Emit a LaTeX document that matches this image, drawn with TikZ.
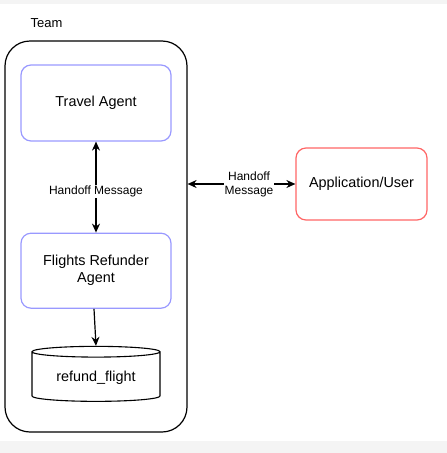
\documentclass[tikz,border=0pt]{standalone}
\usepackage{fontspec}
\setmainfont{Liberation Sans}
\usepackage{xcolor}
\usetikzlibrary{arrows.meta,shapes.geometric,positioning}

\definecolor{agentline}{RGB}{153,153,255}
\definecolor{userline}{RGB}{255,102,102}
\definecolor{stripgray}{RGB}{244,244,244}

\begin{document}
\begin{tikzpicture}[x=1pt,y=1pt,>={Stealth[length=9pt,width=8pt]},node distance=3cm,
            agent node/.style={draw=agentline,line width=1.2pt,rounded corners=10pt,
                minimum width=150pt,align=center,font=\fontsize{14.4}{17}\selectfont},
            user node/.style={draw=userline,line width=1.2pt,rounded corners=10pt,
                minimum width=131pt,minimum height=72pt,font=\fontsize{14.4}{17}\selectfont},
            team box/.style={draw,line width=1.2pt,rounded corners=25pt,
                minimum width=182pt,minimum height=391pt},
            store node/.style={draw,line width=1.1pt,cylinder,shape border rotate=90,aspect=0.125,
                minimum width=128pt,minimum height=55pt,font=\fontsize{14.4}{17}\selectfont},
            link/.style={line width=1.2pt},
            msg/.style={fill=white,inner sep=1pt,align=center,font=\fontsize{12}{14}\selectfont}]

        \useasboundingbox (0,0) rectangle (447,-453);
        \fill[stripgray] (0,0) rectangle (447,-4);
        \fill[stripgray] (0,-441) rectangle (447,-453);

        \node[team box] (team) at (96,-236.5) {};
        \node[anchor=west,font=\fontsize{13}{15}\selectfont] (teamlabel) at (27,-23) {Team};

        \node[agent node,minimum height=76pt] (travel) at (96,-103) {Travel Agent};
        \node[agent node,minimum height=75pt] (refunder) [below=91pt of travel] {Flights Refunder\\Agent};
        \node[store node] (refund) [below=37pt of refunder] {refund\_flight};

        \node[user node] (app) at (361.5,-184) {Application/User};

        \draw[<->,link] (travel) -- node[msg,pos=0.55] {Handoff Message} (refunder);
        \draw[->,link] ([xshift=-2pt]refunder.south) -- (refund.north);
        \draw[<->,link] (app.west -| team.east) -- node[msg,pos=0.57] {Handoff\\Message} (app.west);

    \end{tikzpicture}
\end{document}
